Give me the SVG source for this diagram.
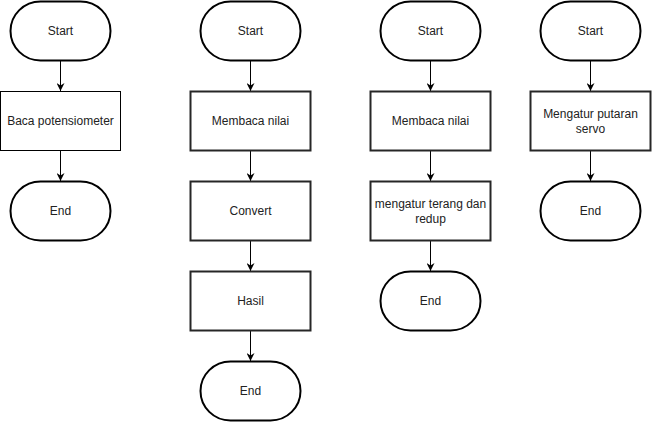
<svg xmlns="http://www.w3.org/2000/svg" width="652" height="422" viewBox="0 0 652 422">
<defs>
<style>
.t{fill:#fff;stroke:#000;stroke-width:2}
.p{fill:#fff;stroke:#000;stroke-width:1}
.p2{fill:#fff;stroke:#262626;stroke-width:2}
text{font-family:"Liberation Sans",Arial,sans-serif;font-size:12px;fill:#222;text-anchor:middle}
.c{stroke:#000;stroke-width:1;fill:none;marker-end:url(#a)}
</style>
<marker id="a" viewBox="0 0 10 10" refX="10" refY="5" markerWidth="8" markerHeight="8" markerUnits="userSpaceOnUse" orient="auto">
<path d="M0,0 L10,5 L0,10 L3,5 Z" fill="#000"/>
</marker>
</defs>
<rect width="652" height="422" fill="#fff"/>
<g id="connectors">
<path class="c" d="M60.5,61 V91"/>
<path class="c" d="M60.5,151 V181"/>
<path class="c" d="M250.5,61 V91"/>
<path class="c" d="M250.5,151 V181"/>
<path class="c" d="M250.5,241 V271"/>
<path class="c" d="M250.5,331 V361"/>
<path class="c" d="M430.5,61 V91"/>
<path class="c" d="M430.5,151 V181"/>
<path class="c" d="M430.5,241 V271"/>
<path class="c" d="M590.5,61 V91"/>
<path class="c" d="M590.5,151 V181"/>
</g>
<g id="c1-start"><rect class="t" x="10.5" y="1.5" width="100" height="59" rx="30" ry="29.5"/><text x="60.5" y="35">Start</text></g>
<g id="c1-baca"><rect class="p" x="0.5" y="91.5" width="120" height="59"/><text x="60.5" y="125">Baca potensiometer</text></g>
<g id="c1-end"><rect class="t" x="10.5" y="181.5" width="100" height="59" rx="30" ry="29.5"/><text x="60.5" y="215">End</text></g>

<g id="c2-start"><rect class="t" x="200.5" y="1.5" width="100" height="59" rx="30" ry="29.5"/><text x="250.5" y="35">Start</text></g>
<g id="c2-membaca"><rect class="p2" x="190.5" y="91.5" width="120" height="59"/><text x="250.5" y="125">Membaca nilai</text></g>
<g id="c2-convert"><rect class="p2" x="190.5" y="181.5" width="120" height="59"/><text x="250.5" y="215">Convert</text></g>
<g id="c2-hasil"><rect class="p2" x="190.5" y="271.5" width="120" height="59"/><text x="250.5" y="305">Hasil</text></g>
<g id="c2-end"><rect class="t" x="200.5" y="361.5" width="100" height="59" rx="30" ry="29.5"/><text x="250.5" y="395">End</text></g>

<g id="c3-start"><rect class="t" x="380.5" y="1.5" width="100" height="59" rx="30" ry="29.5"/><text x="430.5" y="35">Start</text></g>
<g id="c3-membaca"><rect class="p2" x="370.5" y="91.5" width="120" height="59"/><text x="430.5" y="125">Membaca nilai</text></g>
<g id="c3-mengatur"><rect class="p2" x="370.5" y="181.5" width="120" height="59"/><text x="430.5" y="207.5">mengatur terang dan</text><text x="430.5" y="223">redup</text></g>
<g id="c3-end"><rect class="t" x="380.5" y="271.5" width="100" height="59" rx="30" ry="29.5"/><text x="430.5" y="305">End</text></g>

<g id="c4-start"><rect class="t" x="540.5" y="1.5" width="100" height="59" rx="30" ry="29.5"/><text x="590.5" y="35">Start</text></g>
<g id="c4-servo"><rect class="p2" x="530.5" y="91.5" width="120" height="59"/><text x="590.5" y="117.5">Mengatur putaran</text><text x="590.5" y="133">servo</text></g>
<g id="c4-end"><rect class="t" x="540.5" y="181.5" width="100" height="59" rx="30" ry="29.5"/><text x="590.5" y="215">End</text></g>
</svg>
